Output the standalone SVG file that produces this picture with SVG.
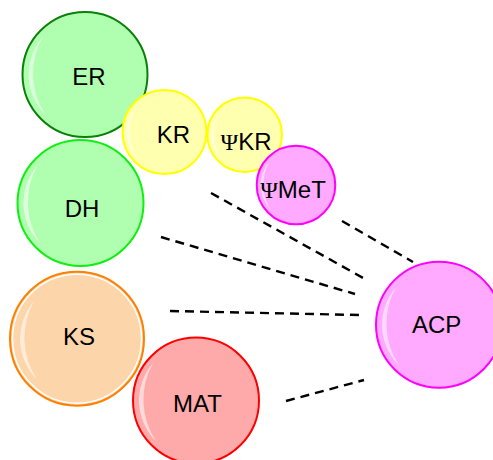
<svg xmlns="http://www.w3.org/2000/svg" xmlns:xlink="http://www.w3.org/1999/xlink" width="493" height="460" viewBox="0 0 493 460">
<style>
.n{stroke-width:2}
.t{font-family:"Liberation Sans",Arial,sans-serif;font-size:24px;fill:#000;text-anchor:middle}
.psi{font-family:"Liberation Serif","Times New Roman",serif}
.c{stroke:#000;stroke-width:2.4;stroke-dasharray:9,6;fill:none}
.hl{fill:#fff;opacity:0.55}
</style>
<defs>
<path id="hl" d="M-43,-37.4 A57,57 0 0 0 -40.3,40.3 A75,75 0 0 1 -43,-37.4 Z"/>
</defs>
<rect width="493" height="460" fill="#fff"/>
<g id="connectors">
<line class="c" x1="211" y1="193" x2="365" y2="279"/>
<line class="c" x1="161" y1="237" x2="355" y2="294"/>
<line class="c" x1="170" y1="311" x2="359" y2="315"/>
<line class="c" x1="286" y1="401" x2="364" y2="380"/>
<line class="c" x1="342" y1="221" x2="413" y2="262"/>
</g>
<g id="ER">
<circle class="n" cx="85" cy="74.5" r="62.5" fill="#b0ffb0" stroke="#0a800a"/>
<use href="#hl" class="hl" transform="translate(85,74.5) scale(0.99)"/>
<text class="t" x="89" y="85">ER</text>
</g>
<g id="DH">
<circle class="n" cx="80.5" cy="203" r="63" fill="#b0ffb0" stroke="#11ee11"/>
<use href="#hl" class="hl" transform="translate(80.5,203)"/>
<text class="t" x="82" y="216.5">DH</text>
</g>
<g id="KR">
<circle class="n" cx="164.5" cy="132" r="42" fill="#ffffb0" stroke="#ffff00"/>
<use href="#hl" class="hl" transform="translate(164.5,132) scale(0.667)"/>
<text class="t" x="173.5" y="142.5">KR</text>
</g>
<g id="PsiKR">
<circle class="n" cx="244.7" cy="134.7" r="37.3" fill="#ffffb0" stroke="#ffff00"/>
<use href="#hl" class="hl" transform="translate(244.7,134.7) scale(0.59)"/>
<text class="t" x="246" y="150"><tspan class="psi">Ψ</tspan>KR</text>
</g>
<g id="PsiMeT">
<circle class="n" cx="296" cy="185" r="39.3" fill="#ffaaff" stroke="#ff00ff"/>
<use href="#hl" class="hl" transform="translate(296,185) scale(0.62)"/>
<text class="t" x="293" y="197.5"><tspan class="psi">Ψ</tspan>MeT</text>
</g>
<g id="KS">
<circle class="n" cx="77" cy="338.7" r="67" fill="#fdd5aa" stroke="#ff8000"/>
<circle cx="77" cy="338.7" r="64.5" fill="none" stroke="#fff" stroke-width="1.5"/>
<use href="#hl" class="hl" transform="translate(77,338.7) scale(1.0)"/>
<text class="t" x="79" y="344.5">KS</text>
</g>
<g id="MAT">
<circle class="n" cx="196" cy="400.5" r="63" fill="#ffaaaa" stroke="#ff0000"/>
<use href="#hl" class="hl" transform="translate(196,400.5)"/>
<text class="t" x="197.5" y="411.5">MAT</text>
</g>
<g id="ACP">
<circle class="n" cx="439" cy="324.7" r="63" fill="#ffaaff" stroke="#ff00ff"/>
<use href="#hl" class="hl" transform="translate(439,324.7)"/>
<text class="t" x="436.7" y="332.5">ACP</text>
</g>
</svg>
